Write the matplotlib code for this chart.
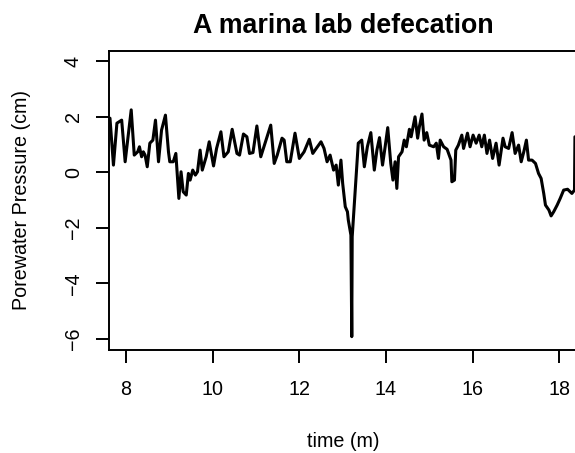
import matplotlib
matplotlib.use("Agg")
import matplotlib.pyplot as plt
import numpy as np

plt.rcParams['font.family'] = ['Liberation Sans', 'DejaVu Sans']

# time (minutes) and porewater pressure (cm)
time_m = [7.63, 7.71, 7.79, 7.90, 7.98, 8.12, 8.19, 8.27, 8.31, 8.36,
          8.40, 8.44, 8.49, 8.55, 8.62, 8.68, 8.75, 8.82, 8.91, 8.98,
          9.01, 9.09, 9.15, 9.22, 9.27, 9.32, 9.39, 9.44, 9.48, 9.54,
          9.60, 9.65, 9.71, 9.76, 9.85, 9.92, 10.02, 10.09, 10.19, 10.26,
          10.36, 10.45, 10.56, 10.62, 10.71, 10.79, 10.85, 10.93, 11.02, 11.11,
          11.21, 11.34, 11.42, 11.49, 11.60, 11.65, 11.71, 11.79, 11.90, 12.00,
          12.11, 12.23, 12.31, 12.39, 12.50, 12.57, 12.64, 12.71, 12.79, 12.85,
          12.90, 12.96, 13.00, 13.06, 13.11, 13.13, 13.19, 13.21, 13.22, 13.25,
          13.29, 13.36, 13.44, 13.50, 13.57, 13.65, 13.73, 13.79, 13.85, 13.92,
          13.98, 14.04, 14.11, 14.16, 14.21, 14.25, 14.29, 14.37, 14.42, 14.47,
          14.54, 14.58, 14.67, 14.73, 14.77, 14.83, 14.88, 14.94, 15.00, 15.10,
          15.16, 15.21, 15.25, 15.33, 15.41, 15.50, 15.52, 15.58, 15.61, 15.67,
          15.75, 15.79, 15.88, 15.94, 16.01, 16.08, 16.15, 16.21, 16.27, 16.33,
          16.39, 16.46, 16.54, 16.61, 16.70, 16.75, 16.83, 16.91, 16.98, 17.06,
          17.12, 17.18, 17.24, 17.29, 17.37, 17.45, 17.52, 17.58, 17.64, 17.68,
          17.76, 17.81, 17.87, 17.95, 18.02, 18.10, 18.19, 18.29, 18.35, 18.36]
pressure_cm = [1.95, 0.26, 1.77, 1.88, 0.38, 2.25, 0.62, 0.74, 0.92, 0.56,
               0.74, 0.62, 0.20, 1.05, 1.16, 1.88, 0.38, 1.52, 2.06, 0.74,
               0.38, 0.38, 0.68, -0.94, 0.02, -0.70, -0.82, -0.04, -0.28, 0.08,
               -0.10, 0.02, 0.80, 0.08, 0.56, 1.10, 0.23, 0.86, 1.46, 0.56,
               0.74, 1.55, 0.68, 0.62, 1.38, 1.28, 0.68, 0.71, 1.67, 0.56,
               1.05, 1.70, 0.32, 0.62, 1.23, 1.16, 0.38, 0.38, 1.41, 0.50,
               0.74, 1.19, 0.68, 0.86, 1.10, 0.86, 0.38, 0.62, 0.08, 0.26,
               -0.46, 0.44, -0.40, -1.24, -1.42, -1.72, -2.26, -5.92, -2.32, -1.60,
               -0.64, 1.05, 1.16, 0.20, 0.92, 1.43, 0.08, 0.80, 1.25, 0.26,
               0.92, 1.61, 0.32, -0.28, 0.38, -0.58, 0.56, 0.74, 1.16, 0.92,
               1.55, 1.28, 2.00, 1.23, 1.64, 2.10, 1.16, 1.43, 0.98, 0.92,
               1.05, 0.50, 1.16, 0.92, 0.83, 0.44, -0.34, -0.28, 0.80, 0.98,
               1.34, 0.86, 1.41, 0.92, 1.34, 1.05, 1.34, 0.92, 1.34, 0.68,
               1.16, 0.50, 1.05, 0.26, 1.23, 0.92, 0.86, 1.43, 0.68, 0.98,
               0.38, 0.74, 1.16, 0.44, 0.44, 0.32, -0.04, -0.22, -0.76, -1.18,
               -1.36, -1.57, -1.42, -1.18, -0.94, -0.64, -0.61, -0.76, -0.64, 1.28]
xticks = [8, 10, 12, 14, 16, 18]
yticks = [-6, -4, -2, 0, 2, 4]

fig = plt.figure(figsize=(5.75, 4.53), dpi=100)
ax = fig.add_axes([0.1887, 0.2274, 0.8157, 0.660])

ax.plot(time_m, pressure_cm, color='black', linewidth=2.2,
        solid_joinstyle='round', solid_capstyle='round')

ax.set_xlim(7.596, 18.42)
ax.set_ylim(-6.40, 4.37)
ax.set_xticks(xticks)
ax.set_yticks(yticks)
ax.set_yticklabels([str(v).replace('-', '\u2212') for v in yticks],
                   rotation=90, va='center')

for s in ax.spines.values():
    s.set_linewidth(1.4)
ax.tick_params(axis='both', length=9.4, width=1.4, labelsize=14.2)
ax.tick_params(axis='x', pad=12)
ax.tick_params(axis='y', pad=9)

ax.set_xlabel('time (m)', fontsize=14.2, labelpad=24)
ax.set_ylabel('Porewater Pressure (cm)', fontsize=14.2, labelpad=24)
ax.set_title('A marina lab defecation', fontsize=19.3, fontweight='bold', pad=13)

fig.savefig('out.png', dpi=100)
